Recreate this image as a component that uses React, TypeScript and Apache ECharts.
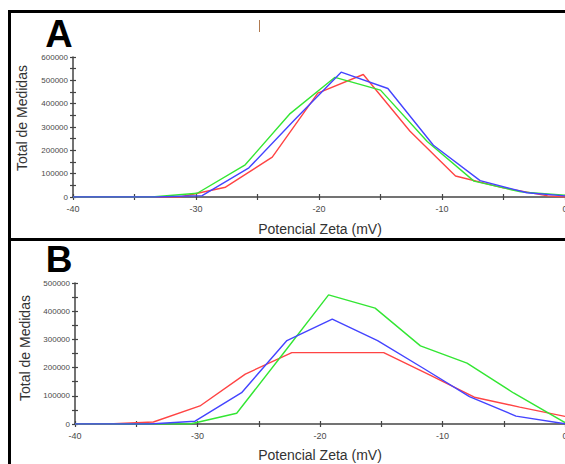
import React, { useEffect, useRef } from "react";
import * as echarts from "echarts";

// Panel A series: [Potencial Zeta (mV), Total de Medidas]
const aRed = [[-40, 0], [-31.3, 0], [-27.6, 42000], [-23.8, 171000], [-20.1, 445000], [-16.4, 525000], [-12.6, 282000], [-8.9, 90000], [-5.1, 40000], [-1.4, 5000], [0, 0]];
const aGreen = [[-40, 0], [-33.6, 0], [-29.9, 16000], [-26.0, 138000], [-22.4, 355000], [-18.7, 513000], [-15.0, 458000], [-11.2, 238000], [-7.4, 68000], [-3.6, 22000], [0, 8000]];
const aBlue = [[-40, 0], [-33.3, 0], [-29.5, 6000], [-25.7, 125000], [-22.0, 330000], [-18.2, 535000], [-14.4, 465000], [-10.7, 222000], [-6.9, 70000], [-3.1, 18000], [0, 5000]];

// Panel B series
const bRed = [[-40, 0], [-37.3, 0], [-33.6, 7000], [-29.8, 64000], [-26.1, 177000], [-22.3, 253000], [-18.6, 253000], [-14.8, 253000], [-11.1, 175000], [-7.4, 95000], [-3.7, 60000], [0, 27000]];
const bGreen = [[-40, 0], [-30.6, 0], [-26.8, 38000], [-23.0, 250000], [-19.3, 458000], [-15.5, 411000], [-11.8, 277000], [-8.0, 216000], [-4.2, 110000], [0, 5000]];
const bBlue = [[-40, 0], [-33.9, 0], [-30.2, 10000], [-26.4, 111000], [-22.7, 296000], [-19.0, 372000], [-15.3, 296000], [-11.5, 196000], [-7.8, 97000], [-4.0, 28000], [0, 1000]];

const xRange = [-40, 0];
const xInterval = 10;
const aYMax = 600000;
const bYMax = 500000;
const yInterval = 100000;

const panelLabels = ["A", "B"];
const xTitle = "Potencial Zeta (mV)";
const yTitle = "Total de Medidas";

const RED = "#ff4444";
const GREEN = "#33e633";
const BLUE = "#4444ff";
const AXIS = "#444";
const FONT = "Liberation Sans, Arial, sans-serif";

const gridA = { left: 73, top: 57, width: 492, height: 140 };
const gridB = { left: 75, top: 283, width: 490, height: 141 };

const tickStyle = { color: AXIS, width: 1.2 };

function xAxisOf(gridIndex: number, inner: boolean) {
  return {
    type: "value", gridIndex, position: "bottom", min: xRange[0], max: xRange[1], interval: xInterval,
    axisLine: { show: !inner, onZero: false, lineStyle: { color: AXIS, width: 1.5 } },
    axisTick: { show: true, inside: inner, length: 3, lineStyle: tickStyle },
    minorTick: { show: true, splitNumber: 2, length: 3, lineStyle: tickStyle },
    splitLine: { show: false }, minorSplitLine: { show: false },
    axisLabel: { show: !inner, margin: 7, fontSize: 9, color: "#4a4a4a", fontFamily: FONT, formatter: (v: number) => String(v) },
  };
}
function yAxisOf(gridIndex: number, max: number, inner: boolean) {
  return {
    type: "value", gridIndex, position: "left", min: 0, max, interval: yInterval,
    axisLine: { show: !inner, onZero: false, lineStyle: { color: AXIS, width: 1.5 } },
    axisTick: { show: true, inside: inner, length: 3, lineStyle: tickStyle },
    minorTick: { show: true, splitNumber: 2, length: 3, lineStyle: tickStyle },
    splitLine: { show: false }, minorSplitLine: { show: false },
    axisLabel: { show: !inner, margin: 5, fontSize: 8, color: "#4a4a4a", fontFamily: FONT, formatter: (v: number) => String(v) },
  };
}
function line(data: number[][], color: string, axisIndex: number) {
  return {
    type: "line", data, xAxisIndex: axisIndex, yAxisIndex: axisIndex, showSymbol: false, symbol: "none",
    lineStyle: { color, width: 1.4 }, itemStyle: { color }, silent: true,
  };
}

export default function App() {
  const ref = useRef<HTMLDivElement>(null);
  useEffect(() => {
    if (!ref.current) return;
    const chart = echarts.init(ref.current, undefined, { renderer: "svg" });
    const txt = (x: number, y: number, text: string, extra: any = {}) => ({
      type: "text", x, y, style: { text, fill: "#333", font: `14px ${FONT}`, align: "center", verticalAlign: "middle", ...extra },
    });
    chart.setOption({
      animation: false,
      backgroundColor: "#fff",
      // grids 0/1 hold the data; grids 2/3 are identical copies carrying the inward half of each tick
      grid: [gridA, gridB, gridA, gridB].map((g) => ({ ...g, outerBoundsMode: "none", containLabel: false })),
      xAxis: [xAxisOf(0, false), xAxisOf(1, false), xAxisOf(2, true), xAxisOf(3, true)],
      yAxis: [yAxisOf(0, aYMax, false), yAxisOf(1, bYMax, false), yAxisOf(2, aYMax, true), yAxisOf(3, bYMax, true)],
      series: [
        line(aRed, RED, 0), line(aGreen, GREEN, 0), line(aBlue, BLUE, 0),
        line(bRed, RED, 1), line(bGreen, GREEN, 1), line(bBlue, BLUE, 1),
      ],
      graphic: [
        { type: "rect", shape: { x: 8, y: 10, width: 560, height: 3 }, style: { fill: "#000" } },
        { type: "rect", shape: { x: 8, y: 10, width: 3, height: 460 }, style: { fill: "#000" } },
        { type: "rect", shape: { x: 8, y: 238, width: 560, height: 3 }, style: { fill: "#000" } },
        { type: "line", shape: { x1: 259.5, y1: 20, x2: 259.5, y2: 32 }, style: { stroke: "#b07a50", lineWidth: 1 } },
        { type: "text", x: 59, y: 34, style: { text: panelLabels[0], fill: "#000", font: `bold 38px ${FONT}`, lineHeight: 24, align: "center", verticalAlign: "middle" } },
        { type: "text", x: 59, y: 259, style: { text: panelLabels[1], fill: "#000", font: `bold 37px ${FONT}`, lineHeight: 24, align: "center", verticalAlign: "middle" } },
        txt(320, 229, xTitle),
        txt(320, 455, xTitle),
        { ...txt(0, 0, yTitle), x: 22, y: 118, rotation: Math.PI / 2 },
        { ...txt(0, 0, yTitle), x: 25, y: 348, rotation: Math.PI / 2 },
      ],
    });
    return () => chart.dispose();
  }, []);
  return <div ref={ref} style={{ position: "fixed", left: 0, top: 0, width: 565, height: 464 }} />;
}
